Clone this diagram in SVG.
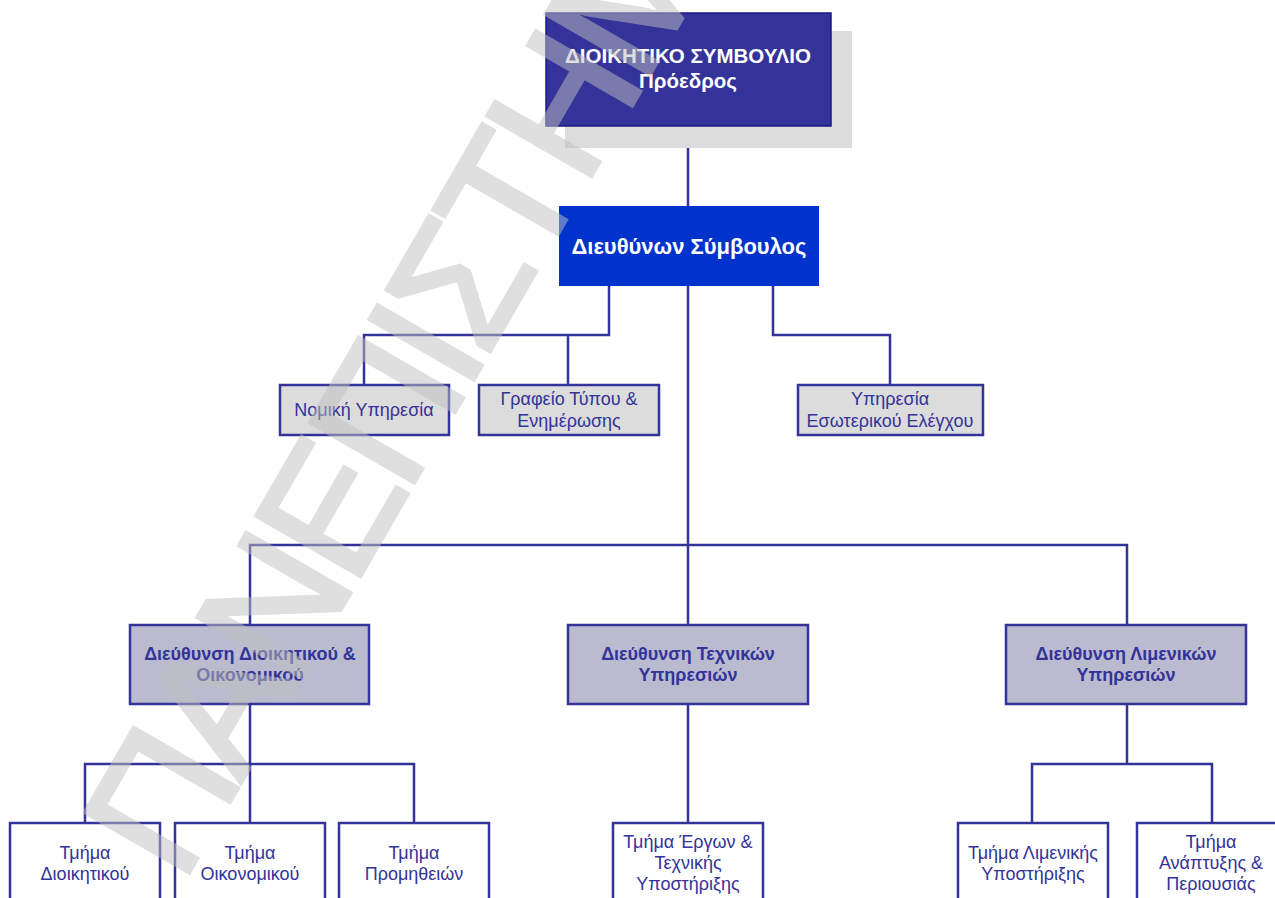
<svg xmlns="http://www.w3.org/2000/svg" width="1275" height="898" viewBox="0 0 1275 898">
<style>
.ln{stroke:#333399;stroke-width:2.5;fill:none}
.box{stroke:#333399;stroke-width:2.5}
.t{font-family:"Liberation Sans",Arial,sans-serif;font-size:18px;fill:#333399;text-anchor:middle}
.tb{font-family:"Liberation Sans",Arial,sans-serif;font-size:18px;font-weight:bold;fill:#333399;text-anchor:middle}
.tw{font-family:"Liberation Sans",Arial,sans-serif;font-weight:bold;fill:#ffffff;text-anchor:middle}
.wm{font-family:"Liberation Sans",Arial,sans-serif;font-size:175px;letter-spacing:-9px;fill:#c0c0c0;stroke:#c0c0c0;stroke-width:4;opacity:0.5}
</style>
<rect width="1275" height="898" fill="#ffffff"/>
<g id="connectors">
<path class="ln" d="M688,126V206"/>
<path class="ln" d="M688,286V625"/>
<path class="ln" d="M609,286V335H364V385M568,335V385"/>
<path class="ln" d="M773,286V335H890V385"/>
<path class="ln" d="M250,625V545H1127V625"/>
<path class="ln" d="M250,704V823M85,823V764H414V823"/>
<path class="ln" d="M688,704V823"/>
<path class="ln" d="M1127,704V764M1032,823V764H1212V823"/>
</g>
<rect x="565" y="31" width="287" height="117" fill="#dcdcdc"/>
<g id="board">
<rect x="546" y="13" width="285" height="113" fill="#333399" stroke="#1a1a80" stroke-width="1.5"/>
<text class="tw" x="688" y="63" font-size="20.5">ΔΙΟΙΚΗΤΙΚΟ ΣΥΜΒΟΥΛΙΟ</text>
<text class="tw" x="688" y="88" font-size="20.5">Πρόεδρος</text>
</g>
<g id="ceo">
<rect x="559" y="206" width="260" height="80" fill="#0033cc"/>
<text class="tw" x="689" y="254" font-size="22">Διευθύνων Σύμβουλος</text>
</g>
<g id="legal">
<rect class="box" x="280" y="385" width="169" height="50" fill="#dcdcdc"/>
<text class="t" x="364" y="416">Νομική Υπηρεσία</text>
</g>
<g id="press">
<rect class="box" x="479" y="385" width="180" height="50" fill="#dcdcdc"/>
<text class="t" x="569" y="405">Γραφείο Τύπου &amp;</text>
<text class="t" x="569" y="427">Ενημέρωσης</text>
</g>
<g id="audit">
<rect class="box" x="798" y="385" width="185" height="50" fill="#dcdcdc"/>
<text class="t" x="890" y="405">Υπηρεσία</text>
<text class="t" x="890" y="427">Εσωτερικού Ελέγχου</text>
</g>
<g id="dir-admin">
<rect class="box" x="130" y="625" width="239" height="79" fill="#bbbbd0"/>
<text class="tb" x="250" y="660">Διεύθυνση Διοικητικού &amp;</text>
<text class="tb" x="250" y="681">Οικονομικού</text>
</g>
<g id="dir-tech">
<rect class="box" x="568" y="625" width="240" height="79" fill="#bbbbd0"/>
<text class="tb" x="688" y="660">Διεύθυνση Τεχνικών</text>
<text class="tb" x="688" y="681">Υπηρεσιών</text>
</g>
<g id="dir-port">
<rect class="box" x="1006" y="625" width="240" height="79" fill="#bbbbd0"/>
<text class="tb" x="1126" y="660">Διεύθυνση Λιμενικών</text>
<text class="tb" x="1126" y="681">Υπηρεσιών</text>
</g>
<g id="d-admin">
<rect class="box" x="10" y="823" width="150" height="90" fill="#ffffff"/>
<text class="t" x="85" y="859">Τμήμα</text>
<text class="t" x="85" y="880">Διοικητικού</text>
</g>
<g id="d-fin">
<rect class="box" x="175" y="823" width="150" height="90" fill="#ffffff"/>
<text class="t" x="250" y="859">Τμήμα</text>
<text class="t" x="250" y="880">Οικονομικού</text>
</g>
<g id="d-proc">
<rect class="box" x="339" y="823" width="150" height="90" fill="#ffffff"/>
<text class="t" x="414" y="859">Τμήμα</text>
<text class="t" x="414" y="880">Προμηθειών</text>
</g>
<g id="d-works">
<rect class="box" x="613" y="823" width="150" height="90" fill="#ffffff"/>
<text class="t" x="688" y="848">Τμήμα Έργων &amp;</text>
<text class="t" x="688" y="869">Τεχνικής</text>
<text class="t" x="688" y="890">Υποστήριξης</text>
</g>
<g id="d-portsup">
<rect class="box" x="958" y="823" width="150" height="90" fill="#ffffff"/>
<text class="t" x="1033" y="859">Τμήμα Λιμενικής</text>
<text class="t" x="1033" y="880">Υποστήριξης</text>
</g>
<g id="d-dev">
<rect class="box" x="1137" y="823" width="150" height="90" fill="#ffffff"/>
<text class="t" x="1211" y="848">Τμήμα</text>
<text class="t" x="1211" y="869">Ανάπτυξης &amp;</text>
<text class="t" x="1211" y="890">Περιουσιάς</text>
</g>
<text class="wm" x="182" y="885" transform="rotate(-60 182 885)">ΠΑΝΕΠΙΣΤΗΜΙΟ</text>
</svg>
